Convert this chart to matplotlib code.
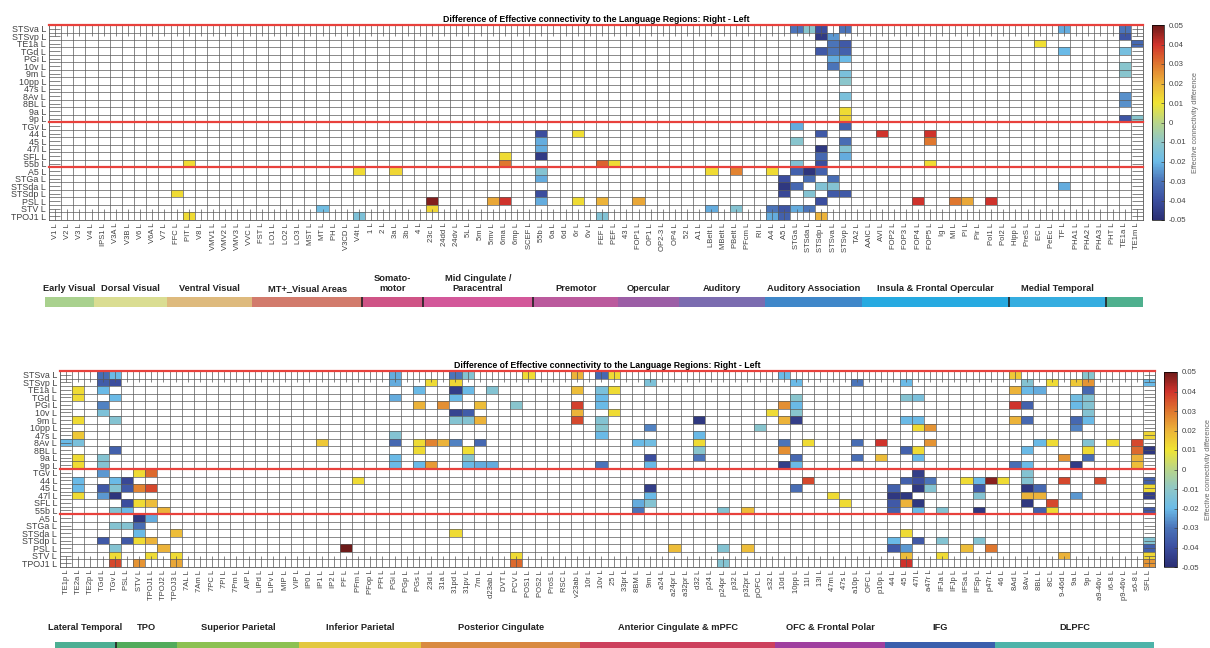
import numpy as np
import matplotlib.pyplot as plt
from matplotlib.colors import LinearSegmentedColormap

plt.rcParams['font.family'] = ['Liberation Sans', 'DejaVu Sans']

title = 'Difference of Effective connectivity to the Language Regions: Right - Left'

# target (language) regions, rows of both panels
rows = ['STSva', 'STSvp', 'TE1a', 'TGd', 'PGi', '10v', '9m', '10pp', '47s', '8Av',
        '8BL', '9a', '9p', 'TGv', '44', '45', '47l', 'SFL', '55b', 'A5', 'STGa',
        'STSda', 'STSdp', 'PSL', 'STV', 'TPOJ1']
row_breaks = [0, 13, 19]

top_cols = ['V1', 'V2', 'V3', 'V4', 'IPS1', 'V3A', 'V3B', 'V6', 'V6A', 'V7', 'FFC', 'PIT',
            'V8', 'VMV1', 'VMV2', 'VMV3', 'VVC', 'FST', 'LO1', 'LO2', 'LO3', 'MST', 'MT',
            'PH', 'V3CD', 'V4t', '1', '2', '3a', '3b', '4', '23c', '24dd', '24dv', '5L',
            '5m', '5mv', '6ma', '6mp', 'SCEF', '55b', '6a', '6d', '6r', '6v', 'FEF', 'PEF',
            '43', 'FOP1', 'OP1', 'OP2-3', 'OP4', '52', 'A1', 'LBelt', 'MBelt', 'PBelt',
            'PFcm', 'RI', 'A4', 'A5', 'STGa', 'STSda', 'STSdp', 'STSva', 'STSvp', 'TA2',
            'AAIC', 'AVI', 'FOP2', 'FOP3', 'FOP4', 'FOP5', 'Ig', 'MI', 'PI', 'Pir', 'PoI1',
            'PoI2', 'Hipp', 'PreS', 'EC', 'PeEc', 'TF', 'PHA1', 'PHA2', 'PHA3', 'PHT',
            'TE1a', 'TE1m']

bottom_cols = ['TE1p', 'TE2a', 'TE2p', 'TGd', 'TGv', 'PSL', 'STV', 'TPOJ1', 'TPOJ2',
               'TPOJ3', '7AL', '7Am', '7PC', '7PI', '7Pm', 'AIP', 'LIPd', 'LIPv', 'MIP',
               'VIP', 'IP0', 'IP1', 'IP2', 'PF', 'PFm', 'PFop', 'PFt', 'PGi', 'PGp', 'PGs',
               '23d', '31a', '31pd', '31pv', '7m', 'd23ab', 'DVT', 'PCV', 'POS1', 'POS2',
               'ProS', 'RSC', 'v23ab', '10r', '10v', '25', '33pr', '8BM', '9m', 'a24',
               'a24pr', 'a32pr', 'd32', 'p24', 'p24pr', 'p32', 'p32pr', 'pOFC', 's32',
               '10d', '10pp', '11l', '13l', '47m', '47s', 'a10p', 'OFC', 'p10p', '44', '45',
               '47l', 'a47r', 'IFJa', 'IFJp', 'IFSa', 'IFSp', 'p47r', '46', '8Ad', '8Av',
               '8BL', '8C', '9-46d', '9a', '9p', 'a9-46v', 'i6-8', 'p9-46v', 's6-8', 'SFL']

# (target row, source column, right-left difference); empty cells are not significant
top_cells = [
    ('STSva', 'STGa', -0.03), ('STSva', 'STSda', -0.012), ('STSva', 'STSdp', -0.04),
    ('STSva', 'STSvp', -0.03), ('STSva', 'TF', -0.022), ('STSva', 'TE1a', -0.03),
    ('STSvp', 'STSdp', -0.046), ('STSvp', 'STSva', -0.025), ('STSvp', 'TE1a', -0.038),
    ('TE1a', 'STSva', -0.03), ('TE1a', 'STSvp', -0.037), ('TE1a', 'EC', 0.011), ('TE1a', 'TE1m', -0.033),
    ('TGd', 'STSdp', -0.037), ('TGd', 'STSva', -0.03), ('TGd', 'STSvp', -0.035), ('TGd', 'TF', -0.02),
    ('TGd', 'TE1a', -0.017),
    ('PGi', 'STSva', -0.022), ('PGi', 'STSvp', -0.02),
    ('10v', 'STSva', -0.03), ('10v', 'TE1a', -0.012),
    ('9m', 'STSvp', -0.016), ('9m', 'TE1a', -0.012),
    ('10pp', 'STSvp', -0.011),
    ('8Av', 'STSvp', -0.016), ('8Av', 'TE1a', -0.026),
    ('8BL', 'TE1a', -0.026),
    ('9a', 'STSvp', 0.012),
    ('9p', 'STSvp', 0.014), ('9p', 'TE1a', -0.038), ('9p', 'TE1m', -0.012),
    ('TGv', 'STGa', -0.022), ('TGv', 'STSvp', -0.035),
    ('44', '55b', -0.04), ('44', '6r', 0.011), ('44', 'STSdp', -0.037), ('44', 'AVI', 0.04), ('44', 'FOP5', 0.04),
    ('45', '55b', -0.022), ('45', 'STGa', -0.012), ('45', 'STSvp', -0.032), ('45', 'FOP5', 0.03),
    ('47l', '55b', -0.022), ('47l', 'STSdp', -0.047), ('47l', 'STSvp', -0.013),
    ('SFL', '6ma', 0.012), ('SFL', '55b', -0.046), ('SFL', 'STSdp', -0.033), ('SFL', 'STSvp', -0.022),
    ('55b', 'PIT', 0.012), ('55b', '6ma', 0.03), ('55b', 'FEF', 0.033), ('55b', 'PEF', 0.012),
    ('55b', 'STGa', -0.014), ('55b', 'STSdp', -0.04), ('55b', 'FOP5', 0.012),
    ('A5', 'V4t', 0.012), ('A5', '3a', 0.013), ('A5', '55b', -0.013), ('A5', 'LBelt', 0.012),
    ('A5', 'PBelt', 0.028), ('A5', 'A4', 0.012), ('A5', 'STGa', -0.035), ('A5', 'STSda', -0.048),
    ('A5', 'STSdp', -0.035),
    ('STGa', '55b', -0.022), ('STGa', 'A5', -0.04), ('STGa', 'STSda', -0.032), ('STGa', 'STSva', -0.032),
    ('STSda', 'A5', -0.047), ('STSda', 'STGa', -0.033), ('STSda', 'STSdp', -0.014),
    ('STSda', 'STSva', -0.013), ('STSda', 'TF', -0.022),
    ('STSdp', 'FFC', 0.012), ('STSdp', '55b', -0.04), ('STSdp', 'A5', -0.042), ('STSdp', 'STSda', -0.013),
    ('STSdp', 'STSva', -0.037), ('STSdp', 'STSvp', -0.037),
    ('PSL', '23c', 0.048), ('PSL', '5mv', 0.022), ('PSL', '6ma', 0.04), ('PSL', '55b', -0.022),
    ('PSL', '6r', 0.012), ('PSL', 'FEF', 0.02), ('PSL', 'FOP1', 0.022), ('PSL', 'STSdp', -0.04),
    ('PSL', 'FOP4', 0.04), ('PSL', 'MI', 0.03), ('PSL', 'PI', 0.022), ('PSL', 'PoI1', 0.04),
    ('STV', 'MT', -0.018), ('STV', '23c', 0.013), ('STV', 'LBelt', -0.022), ('STV', 'PBelt', -0.013),
    ('STV', 'A4', -0.03), ('STV', 'A5', -0.038), ('STV', 'STGa', -0.022), ('STV', 'STSda', -0.03),
    ('TPOJ1', 'PIT', 0.012), ('TPOJ1', 'V4t', -0.015), ('TPOJ1', 'FEF', -0.014), ('TPOJ1', 'A4', -0.022),
    ('TPOJ1', 'A5', -0.035), ('TPOJ1', 'STSdp', 0.02),
]

bottom_cells = [
    ('STSva', 'TGd', -0.032), ('STSva', 'TGv', -0.02), ('STSva', 'PGi', -0.022), ('STSva', '31pd', -0.03),
    ('STSva', '31pv', -0.013), ('STSva', 'POS1', 0.012), ('STSva', 'v23ab', 0.02), ('STSva', '10v', -0.033),
    ('STSva', '25', 0.012), ('STSva', '10d', -0.02), ('STSva', '8Ad', 0.016), ('STSva', '9p', -0.012),
    ('STSvp', 'TGd', -0.036), ('STSvp', 'TGv', -0.04), ('STSvp', 'PGi', -0.022), ('STSvp', '23d', 0.012),
    ('STSvp', '31pd', 0.013), ('STSvp', '9m', -0.015), ('STSvp', '10pp', -0.02), ('STSvp', 'a10p', -0.03),
    ('STSvp', '45', -0.02), ('STSvp', '8Av', -0.013), ('STSvp', '8C', 0.012), ('STSvp', '9a', 0.016),
    ('STSvp', '9p', 0.025), ('STSvp', 'SFL', -0.02),
    ('TE1a', 'TE2a', 0.012), ('TE1a', 'TGd', -0.02), ('TE1a', 'PGs', -0.02), ('TE1a', '31pd', -0.045),
    ('TE1a', '31pv', -0.02), ('TE1a', 'd23ab', -0.013), ('TE1a', 'v23ab', 0.018), ('TE1a', '10v', -0.016),
    ('TE1a', '25', 0.012), ('TE1a', '8Ad', 0.02), ('TE1a', '8Av', -0.02), ('TE1a', '8BL', -0.022),
    ('TE1a', '9p', -0.033),
    ('TGd', 'TE2a', 0.012), ('TGd', 'TGv', -0.02), ('TGd', 'PGi', -0.022), ('TGd', '31pd', -0.02),
    ('TGd', '10v', -0.02), ('TGd', '10pp', -0.012), ('TGd', '45', -0.013), ('TGd', '47l', -0.016),
    ('TGd', '9a', -0.018), ('TGd', '9p', -0.013),
    ('PGi', 'TGd', -0.028), ('PGi', 'PGs', 0.02), ('PGi', '31a', 0.026), ('PGi', '7m', 0.018),
    ('PGi', 'PCV', -0.012), ('PGi', 'v23ab', 0.038), ('PGi', '10v', -0.02), ('PGi', '10d', 0.026),
    ('PGi', '10pp', -0.02), ('PGi', '8Ad', 0.04), ('PGi', '8Av', -0.035), ('PGi', '9a', -0.02),
    ('PGi', '9p', -0.013),
    ('10v', 'TGd', -0.015), ('10v', '31pd', -0.043), ('10v', '31pv', -0.036), ('10v', 'v23ab', 0.02),
    ('10v', '25', 0.012), ('10v', 's32', 0.012), ('10v', '10pp', -0.012), ('10v', '9p', -0.013),
    ('9m', 'TE2a', 0.012), ('9m', 'TGv', -0.013), ('9m', '31pd', -0.013), ('9m', '31pv', -0.013),
    ('9m', '7m', 0.02), ('9m', 'v23ab', 0.037), ('9m', '10v', -0.013), ('9m', 'd32', -0.047),
    ('9m', '10d', 0.02), ('9m', '10pp', -0.045), ('9m', '45', -0.02), ('9m', '47l', -0.02),
    ('9m', '8Ad', 0.02), ('9m', '8Av', -0.033), ('9m', '9a', -0.033), ('9m', '9p', -0.02),
    ('10pp', '10v', -0.012), ('10pp', '9m', -0.028), ('10pp', 'pOFC', -0.012), ('10pp', '47l', 0.012),
    ('10pp', 'a47r', 0.025), ('10pp', '9a', -0.028),
    ('47s', 'TE2a', 0.016), ('47s', 'PGi', -0.013), ('47s', '10v', -0.02), ('47s', 'd32', -0.02),
    ('47s', 'SFL', 0.013),
    ('8Av', 'TE1p', -0.02), ('8Av', 'TE2a', -0.016), ('8Av', 'IP1', 0.016), ('8Av', 'PGi', -0.033),
    ('8Av', 'PGs', 0.012), ('8Av', '23d', 0.028), ('8Av', '31a', 0.02), ('8Av', '31pd', -0.028),
    ('8Av', '7m', -0.033), ('8Av', '8BM', -0.02), ('8Av', '9m', -0.018), ('8Av', 'd32', 0.012),
    ('8Av', '10d', -0.03), ('8Av', '11l', 0.012), ('8Av', 'a10p', -0.032), ('8Av', 'p10p', 0.04),
    ('8Av', 'a47r', 0.025), ('8Av', '8BL', -0.02), ('8Av', '8C', 0.012), ('8Av', '9p', -0.013),
    ('8Av', 'i6-8', 0.012), ('8Av', 's6-8', 0.037),
    ('8BL', 'TGv', -0.035), ('8BL', 'PGs', 0.012), ('8BL', '31pv', 0.011), ('8BL', 'd32', -0.012),
    ('8BL', '10d', 0.026), ('8BL', '45', -0.035), ('8BL', '47l', 0.012), ('8BL', '8Av', -0.02),
    ('8BL', '9p', 0.012), ('8BL', 's6-8', 0.032), ('8BL', 'SFL', -0.047),
    ('9a', 'TE2a', 0.012), ('9a', 'TGd', -0.013), ('9a', 'PGi', -0.02), ('9a', '31pv', -0.012),
    ('9a', '9m', -0.04), ('9a', 'd32', -0.03), ('9a', '10pp', -0.033), ('9a', 'a10p', -0.032),
    ('9a', 'p10p', 0.018), ('9a', '47l', -0.02), ('9a', '9-46d', 0.025), ('9a', '9p', -0.032),
    ('9a', 's6-8', 0.02),
    ('9p', 'TE2a', 0.012), ('9p', 'TGd', -0.013), ('9p', 'PGi', -0.02), ('9p', 'PGs', -0.02),
    ('9p', '23d', 0.024), ('9p', '31pv', -0.02), ('9p', '7m', -0.022), ('9p', 'd23ab', -0.022),
    ('9p', '10v', -0.03), ('9p', '9m', -0.02), ('9p', '10d', -0.045), ('9p', '10pp', -0.02),
    ('9p', '8Ad', -0.032), ('9p', '8Av', -0.02), ('9p', '9a', -0.046), ('9p', 's6-8', 0.018),
    ('TGv', 'TGd', -0.025), ('TGv', 'STV', 0.012), ('TGv', 'TPOJ1', 0.032), ('TGv', '47l', -0.045),
    ('TGv', '8Av', -0.013),
    ('44', 'TE2a', -0.02), ('44', 'TGv', -0.02), ('44', 'PSL', -0.042), ('44', 'PFm', 0.012),
    ('44', '11l', 0.037), ('44', '45', -0.035), ('44', '47l', -0.04), ('44', 'a47r', -0.03),
    ('44', 'IFSa', 0.012), ('44', 'IFSp', -0.02), ('44', 'p47r', 0.047), ('44', '46', 0.012),
    ('44', '8Av', -0.013), ('44', '9-46d', 0.037), ('44', 'a9-46v', 0.037), ('44', 'SFL', -0.035),
    ('45', 'TE2a', -0.02), ('45', 'TGd', -0.037), ('45', 'TGv', -0.013), ('45', 'PSL', -0.037),
    ('45', 'STV', 0.028), ('45', 'TPOJ1', 0.037), ('45', '9m', -0.045), ('45', '10pp', -0.032),
    ('45', '44', -0.035), ('45', '47l', -0.047), ('45', 'a47r', -0.013), ('45', 'IFSp', -0.037),
    ('45', '8Av', -0.047), ('45', '8BL', -0.033), ('45', 'SFL', 0.012),
    ('47l', 'TE2a', 0.012), ('47l', 'TGd', -0.025), ('47l', 'TGv', -0.048), ('47l', '9m', -0.02),
    ('47l', '47m', 0.012), ('47l', '44', -0.047), ('47l', '45', -0.047), ('47l', 'IFSp', -0.013),
    ('47l', '8Av', 0.02), ('47l', '8BL', 0.02), ('47l', '9a', -0.025), ('47l', 'SFL', -0.045),
    ('SFL', 'PSL', -0.04), ('SFL', 'STV', 0.012), ('SFL', 'TPOJ1', 0.018), ('SFL', '8BM', -0.022),
    ('SFL', '9m', -0.013), ('SFL', '47s', 0.012), ('SFL', '44', -0.037), ('SFL', '45', 0.02),
    ('SFL', '47l', -0.047), ('SFL', '8Av', -0.047), ('SFL', '8C', 0.037),
    ('55b', 'TGv', -0.013), ('55b', 'PSL', -0.02), ('55b', 'TPOJ2', 0.02), ('55b', '8BM', -0.03),
    ('55b', 'p24pr', -0.013), ('55b', 'p32pr', 0.018), ('55b', '44', -0.035), ('55b', '47l', -0.02),
    ('55b', 'IFJa', -0.013), ('55b', 'IFSp', -0.047), ('55b', '8BL', -0.035), ('55b', '8C', 0.012),
    ('55b', 'SFL', -0.037),
    ('A5', 'STV', -0.047), ('A5', 'TPOJ1', -0.022),
    ('STGa', 'TGv', -0.013), ('STGa', 'PSL', -0.013), ('STGa', 'STV', -0.032),
    ('STSda', 'STV', -0.02), ('STSda', 'TPOJ3', 0.018), ('STSda', '31pd', 0.012), ('STSda', '45', 0.012),
    ('STSdp', 'TGd', -0.037), ('STSdp', 'PSL', -0.037), ('STSdp', 'STV', 0.012), ('STSdp', 'TPOJ1', 0.02),
    ('STSdp', '44', -0.02), ('STSdp', '47l', -0.037), ('STSdp', 'IFJa', -0.013), ('STSdp', 'IFSp', -0.013),
    ('STSdp', 'SFL', -0.013),
    ('PSL', 'TGv', -0.013), ('PSL', 'TPOJ2', 0.02), ('PSL', 'PF', 0.05), ('PSL', 'a24pr', 0.018),
    ('PSL', 'p24pr', -0.013), ('PSL', 'p32pr', 0.018), ('PSL', '44', -0.037), ('PSL', '45', -0.025),
    ('PSL', 'IFSa', 0.018), ('PSL', 'p47r', 0.03), ('PSL', 'SFL', -0.035),
    ('STV', 'TGv', 0.012), ('STV', 'TPOJ1', 0.012), ('STV', 'TPOJ3', 0.012), ('STV', 'PCV', 0.012),
    ('STV', '45', 0.018), ('STV', 'IFJa', 0.012), ('STV', '9-46d', 0.02), ('STV', 'SFL', 0.013),
    ('TPOJ1', 'TGv', 0.037), ('TPOJ1', 'STV', 0.025), ('TPOJ1', 'TPOJ3', 0.022), ('TPOJ1', 'PCV', 0.032),
    ('TPOJ1', 'p24pr', -0.013), ('TPOJ1', '45', 0.04), ('TPOJ1', 'SFL', 0.025),
]

top_groups = ['Early Visual', 'Dorsal Visual', 'Ventral Visual', 'MT+_Visual Areas',
              'Somato-\nmotor', 'Mid Cingulate /\nParacentral', 'Premotor', 'Opercular',
              'Auditory', 'Auditory Association', 'Insula & Frontal Opercular',
              'Medial Temporal', '']
top_group_sizes = [4, 6, 7, 9, 5, 9, 7, 5, 7, 8, 12, 8, 3]
top_group_colors = ['#a9d18e', '#dadd92', '#deba7d', '#d27b6c', '#cf5486', '#d3589a',
                    '#bb5a9d', '#9c5ea6', '#7b6cb0', '#3f87c9', '#27aae1', '#35ade0', '#4fb08e']
top_dividers = [4, 5, 6, 11, 12]

bottom_groups = ['Lateral Temporal', 'TPO', 'Superior Parietal', 'Inferior Parietal',
                 'Posterior Cingulate', 'Anterior Cingulate & mPFC', 'OFC & Frontal Polar',
                 'IFG', 'DLPFC']
bottom_group_sizes = [5, 5, 10, 10, 13, 16, 9, 9, 13]
bottom_group_colors = ['#4caf93', '#52ab5b', '#8cc152', '#e3c83f', '#d98a40', '#cd405d',
                       '#9f3f9f', '#3a5fad', '#4db3a9']
bottom_dividers = [1]

cmap = LinearSegmentedColormap.from_list('diff', [
    '#2b2f74', '#3b4e9f', '#4b74b9', '#6bbbe8', '#8fc7c8', '#b8d58a',
    '#f0e533', '#ecb43a', '#df772f', '#d1342c', '#6d1a19'])
cmap.set_bad('white')

W, H = 1210, 648
fig = plt.figure(figsize=(W / 100, H / 100), dpi=100)


def box(x0, y0, x1, y1):
    return [x0 / W, 1 - y1 / H, (x1 - x0) / W, (y1 - y0) / H]


def heatmap(ax, cax, cols, cells):
    grid = np.full((len(rows), len(cols)), np.nan)
    for r, c, v in cells:
        grid[rows.index(r), cols.index(c)] = v
    mesh = ax.pcolormesh(np.ma.masked_invalid(grid), cmap=cmap, vmin=-0.05, vmax=0.05)
    ax.set_xlim(0, len(cols))
    ax.set_ylim(len(rows), 0)
    for x in range(1, len(cols)):
        ax.axvline(x, color='#5a5a5a', lw=0.5)
    for y in range(1, len(rows)):
        ax.axhline(y, color='#5a5a5a', lw=0.5)
    for y in row_breaks:
        ax.axhline(y, color='#e8413c', lw=1.6, clip_on=False, zorder=5)
    ax.set_xticks(np.arange(len(cols)) + 0.5)
    ax.set_xticklabels([c + ' L' for c in cols], rotation=90, fontsize=5.5, color='#404040')
    ax.set_yticks(np.arange(len(rows)) + 0.5)
    ax.set_yticklabels([r + ' L' for r in rows], fontsize=6.4, color='#404040')
    ax.tick_params(direction='in', length=8, width=0.5, top=True, right=True,
                   color='#555555', pad=2)
    for s in ax.spines.values():
        s.set_linewidth(0.6)
        s.set_color('#555555')
    ax.set_title(title, fontsize=6.3, fontweight='bold', pad=2.5)

    ticks = np.round(np.arange(-5, 6) / 100, 2)
    cb = fig.colorbar(mesh, cax=cax, ticks=ticks)
    cb.ax.set_yticklabels(['0' if t == 0 else f'{t:g}' for t in ticks])
    cb.ax.tick_params(labelsize=5.6, colors='#444444', direction='in', length=2.5, width=0.5)
    cb.outline.set_linewidth(0.5)
    cb.set_label('Effective connectivity difference', fontsize=5.2, color='#666666', labelpad=4)


def group_bar(ax, names, sizes, colors, dividers, gap):
    left = np.concatenate([[0], np.cumsum(sizes)[:-1]])
    ax.barh(0, sizes, left=left, height=1, color=colors, align='edge')
    for i in dividers:
        ax.axvline(left[i], color='#222222', lw=1.2)
    for name, l, w in zip(names, left, sizes):
        ax.annotate(name, (l + w / 2, 1), xytext=(0, gap), textcoords='offset points',
                    ha='center', va='bottom', fontsize=6.7, fontweight='bold',
                    color='#222222', linespacing=1.1, annotation_clip=False)
    ax.set_xlim(0, sum(sizes))
    ax.set_ylim(0, 1)
    ax.axis('off')


ax1 = fig.add_axes(box(49, 25, 1143, 220))
cax1 = fig.add_axes(box(1152, 25, 1164, 220))
heatmap(ax1, cax1, top_cols, top_cells)
bar1 = fig.add_axes(box(45, 297, 1143, 307))
group_bar(bar1, top_groups, top_group_sizes, top_group_colors, top_dividers, 3)

ax2 = fig.add_axes(box(60, 371, 1155, 567))
cax2 = fig.add_axes(box(1164, 372, 1177, 567))
heatmap(ax2, cax2, bottom_cols, bottom_cells)
bar2 = fig.add_axes(box(55, 642, 1154, 654))
group_bar(bar2, bottom_groups, bottom_group_sizes, bottom_group_colors, bottom_dividers, 7)

fig.savefig('out.png', dpi=100)
